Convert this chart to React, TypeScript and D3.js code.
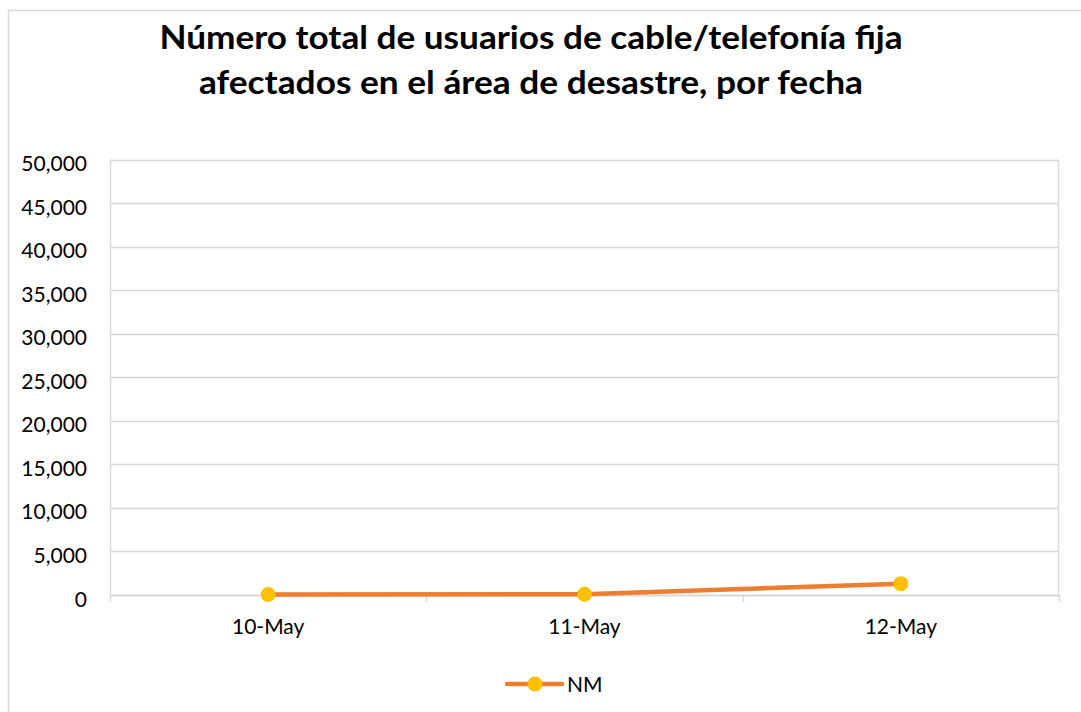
import React, { useEffect, useRef } from 'react';
import * as d3 from 'd3';

const categories = ['10-May', '11-May', '12-May'];
const nmValues = [60, 80, 1300];
const yTicks = [0, 5000, 10000, 15000, 20000, 25000, 30000, 35000, 40000, 45000, 50000];
const titleLines = [
  'Número total de usuarios de cable/telefonía fija',
  'afectados en el área de desastre, por fecha',
];
const seriesName = 'NM';

const W = 1081;
const H = 712;
const FONT = 'Lato, "Open Sans", sans-serif';

export default function App() {
  const ref = useRef<SVGSVGElement>(null);

  useEffect(() => {
    const svg = d3.select(ref.current);
    svg.selectAll('*').remove();

    // chart border (runs off the right and bottom of the page)
    svg.append('rect')
      .attr('x', 8.5).attr('y', 10.5)
      .attr('width', W + 20).attr('height', H + 20)
      .attr('fill', 'white').attr('stroke', '#d9d9d9').attr('stroke-width', 1.5);

    // title, stretched a bit to the width of the original
    const titleWidths = [743, 664];
    svg.append('g').selectAll('text')
      .data(titleLines)
      .join('text')
      .attr('x', 531)
      .attr('y', (d, i) => 49 + i * 45)
      .attr('text-anchor', 'middle')
      .attr('textLength', (d, i) => titleWidths[i])
      .attr('lengthAdjust', 'spacingAndGlyphs')
      .style('font-family', FONT)
      .style('font-weight', 'bold')
      .style('font-size', '32px')
      .style('fill', '#000')
      .text(d => d);

    const left = 110, right = 1059, top = 159.5, bottom = 595;

    const x = d3.scaleBand().domain(categories).range([left, right]);
    const y = d3.scaleLinear().domain([0, 50000]).range([bottom, top]);

    // gridlines
    svg.append('g').selectAll('line')
      .data(yTicks)
      .join('line')
      .attr('x1', left).attr('x2', right)
      .attr('y1', d => Math.round(y(d)) + 0.5).attr('y2', d => Math.round(y(d)) + 0.5)
      .attr('stroke', '#d9d9d9').attr('stroke-width', d => (d === 0 ? 2 : 1.5));

    // plot frame sides
    svg.append('line')
      .attr('x1', left + 0.5).attr('x2', left + 0.5)
      .attr('y1', top).attr('y2', bottom)
      .attr('stroke', '#d9d9d9').attr('stroke-width', 1.5);
    svg.append('line')
      .attr('x1', right - 0.5).attr('x2', right - 0.5)
      .attr('y1', top).attr('y2', bottom)
      .attr('stroke', '#d9d9d9').attr('stroke-width', 1.5);

    // x tick marks at category boundaries
    const bounds = categories.map(c => x(c) as number).concat([right]);
    svg.append('g').selectAll('line')
      .data(bounds)
      .join('line')
      .attr('x1', d => Math.round(d) + 0.5).attr('x2', d => Math.round(d) + 0.5)
      .attr('y1', bottom).attr('y2', bottom + 7)
      .attr('stroke', '#d9d9d9').attr('stroke-width', 1.5);

    // y labels (sit a little below their gridline, like the original)
    svg.append('g').selectAll('text')
      .data(yTicks)
      .join('text')
      .attr('x', 87)
      .attr('y', d => y(d) + 11.5)
      .attr('text-anchor', 'end')
      .style('font-family', FONT)
      .style('font-size', '21px')
      .style('fill', '#000')
      .text(d => d3.format(',')(d));

    // x labels
    svg.append('g').selectAll('text')
      .data(categories)
      .join('text')
      .attr('x', d => (x(d) as number) + x.bandwidth() / 2)
      .attr('y', 634)
      .attr('text-anchor', 'middle')
      .style('font-family', FONT)
      .style('font-size', '21px')
      .style('fill', '#000')
      .text(d => d);

    const cx = (i: number) => (x(categories[i]) as number) + x.bandwidth() / 2;

    // series line
    const line = d3.line<number>()
      .x((d, i) => cx(i))
      .y(d => y(d));
    svg.append('path')
      .datum(nmValues)
      .attr('d', line)
      .attr('fill', 'none')
      .attr('stroke', '#ed7d31')
      .attr('stroke-width', 4.5)
      .attr('stroke-linejoin', 'round')
      .attr('stroke-linecap', 'round');

    svg.append('g').selectAll('circle')
      .data(nmValues)
      .join('circle')
      .attr('cx', (d, i) => cx(i))
      .attr('cy', d => y(d))
      .attr('r', 7.5)
      .attr('fill', '#ffc000');

    // legend
    const lg = svg.append('g').attr('transform', 'translate(507, 684)');
    lg.append('line')
      .attr('x1', 0).attr('x2', 55).attr('y1', 0).attr('y2', 0)
      .attr('stroke', '#ed7d31').attr('stroke-width', 4.5).attr('stroke-linecap', 'round');
    lg.append('circle').attr('cx', 28).attr('cy', 0).attr('r', 7.5).attr('fill', '#ffc000');
    lg.append('text')
      .attr('x', 60).attr('y', 7.5)
      .style('font-family', FONT)
      .style('font-size', '21px')
      .style('fill', '#000')
      .text(seriesName);
  }, []);

  return (
    <svg ref={ref} width={W} height={H}
      style={{ position: 'absolute', left: 0, top: 0, display: 'block' }} />
  );
}
